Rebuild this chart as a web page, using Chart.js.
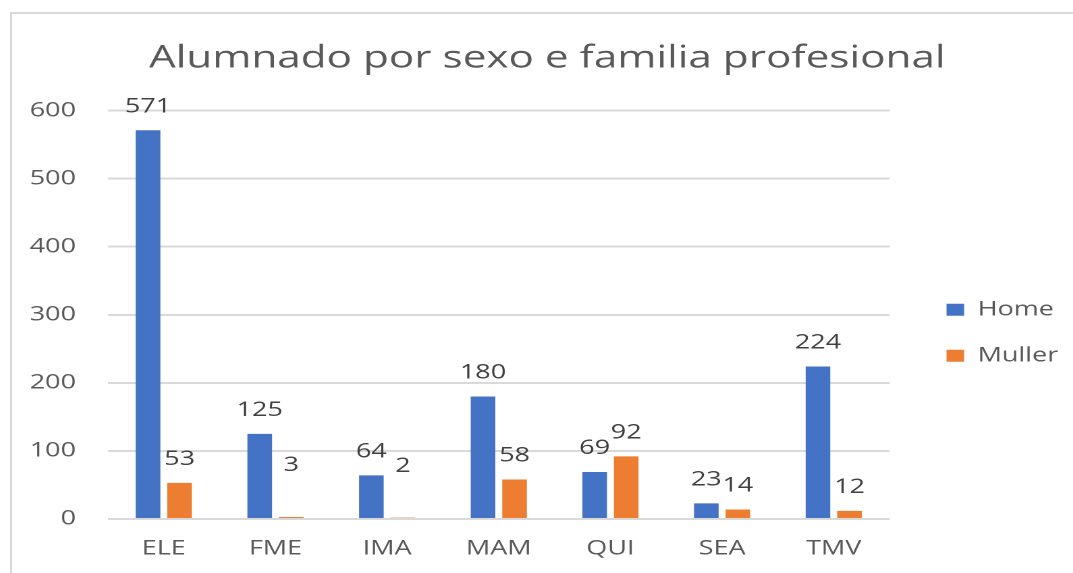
<!DOCTYPE html>
<html>
<head>
<meta charset="utf-8">
<script src="https://cdn.jsdelivr.net/npm/chart.js@4.4.1/dist/chart.umd.min.js"></script>
<style>
  html, body { margin: 0; padding: 0; background: #ffffff; overflow: hidden; width: 1073px; height: 573px; }
  #frame { position: absolute; left: 10px; top: 12px; width: 1200px; height: 700px;
           border-left: 2px solid #d9d9d9; border-top: 2px solid #d9d9d9; }
  #wrap { position: absolute; left: 12px; top: 14px; width: 796px; height: 578px;
          transform: scaleX(1.35); transform-origin: 0 0; }
</style>
</head>
<body>
<div id="frame"></div>
<div id="wrap"><canvas id="c"></canvas></div>
<script>
const chartTitle = 'Alumnado por sexo e familia profesional';
const categories = ['ELE', 'FME', 'IMA', 'MAM', 'QUI', 'SEA', 'TMV'];
const homeValues = [571, 125, 64, 180, 69, 23, 224];
const mullerValues = [53, 3, 2, 58, 92, 14, 12];
const seriesNames = ['Home', 'Muller'];
const yMin = 0, yMax = 600, yStep = 100;

const GREY = '#595959';
const FONT = "'Open Sans', 'Noto Sans', sans-serif";

const valueLabels = {
  id: 'valueLabels',
  afterDatasetsDraw(chart, args, opts) {
    const ctx = chart.ctx;
    ctx.save();
    ctx.font = '20px ' + FONT;
    ctx.fillStyle = '#404040';
    ctx.textAlign = 'center';
    ctx.textBaseline = 'middle';
    chart.data.datasets.forEach((ds, di) => {
      const meta = chart.getDatasetMeta(di);
      meta.data.forEach((el, i) => {
        const p = el.getProps(['x', 'y'], true);
        const lift = (opts.lift && opts.lift[di + '-' + i]) || 0;
        ctx.fillText(String(ds.data[i]), p.x, p.y - 23.5 - lift);
      });
    });
    ctx.restore();
  }
};

new Chart(document.getElementById('c'), {
  type: 'bar',
  data: {
    labels: categories,
    datasets: [
      { label: seriesNames[0], data: homeValues, backgroundColor: '#4472C4', borderWidth: 0,
        categoryPercentage: 0.565, barPercentage: 0.78 },
      { label: seriesNames[1], data: mullerValues, backgroundColor: '#ED7D31', borderWidth: 0,
        categoryPercentage: 0.565, barPercentage: 0.78 }
    ]
  },
  plugins: [valueLabels],
  options: {
    responsive: true,
    maintainAspectRatio: false,
    devicePixelRatio: 2,
    animation: false,
    layout: { padding: { left: 8, right: 11, top: 0, bottom: 13 } },
    plugins: {
      tooltip: { enabled: false },
      title: {
        display: true, text: chartTitle, color: GREY,
        font: { family: FONT, size: 31.3, weight: 'normal' },
        padding: { top: 26, bottom: 33 }
      },
      legend: {
        position: 'right', fullSize: false,
        title: { display: true, text: ' ', font: { size: 10 }, padding: 12 },
        labels: { color: GREY, font: { family: FONT, size: 20 }, boxWidth: 13, boxHeight: 12, padding: 26 }
      },
      valueLabels: { lift: { '1-1': 28, '1-2': 28 } }
    },
    scales: {
      x: {
        grid: { display: false, drawTicks: false },
        border: { display: false },
        ticks: { color: GREY, font: { family: FONT, size: 20 }, padding: 18 }
      },
      y: {
        min: yMin, max: yMax,
        grid: { color: '#d9d9d9', lineWidth: 2, drawTicks: false },
        border: { display: false },
        ticks: { stepSize: yStep, color: GREY, font: { family: FONT, size: 20 }, padding: 23.7 },
        afterFit(s) { s.width = 63.1; }
      },
      yR: {
        type: 'linear', position: 'right', display: true,
        grid: { display: false, drawTicks: false },
        border: { display: false },
        ticks: { display: false },
        afterFit(s) { s.width = 16.2; }
      }
    }
  }
});
</script>
</body>
</html>
